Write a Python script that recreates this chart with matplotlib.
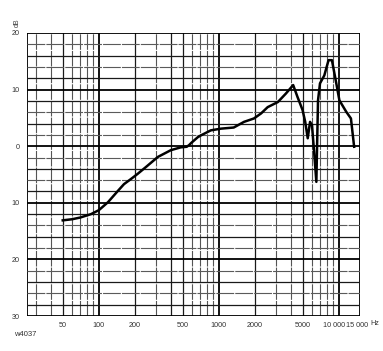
import numpy as np
import matplotlib.pyplot as plt
import matplotlib.transforms as mtransforms

# response curve
freq = [50, 60, 70, 86, 100, 119, 144, 162, 185, 210, 246, 310, 398, 482, 540,
        565, 590, 668, 707, 857, 1040, 1330, 1620, 1960, 2250, 2550, 3100, 3617,
        4160, 4520, 4980, 5240, 5500, 5750, 5970, 6200, 6490, 6700, 6960, 7560,
        8200, 8750, 9400, 10100, 11500, 12600, 13400]
level = [-13.1, -12.9, -12.6, -12.0, -11.3, -9.9, -7.9, -6.7, -5.8, -4.9, -3.7,
         -1.9, -0.7, -0.2, -0.1, 0.2, 0.6, 1.6, 1.9, 2.8, 3.1, 3.3, 4.3, 4.9, 5.8,
         6.9, 7.8, 9.3, 10.8, 8.7, 6.4, 4.3, 1.4, 4.3, 3.7, -0.7, -6.3, 8.1, 11.1,
         12.5, 15.2, 15.2, 11.7, 8.1, 6.1, 4.9, -0.1]

x_ticks = [50, 100, 200, 500, 1000, 2000, 5000, 10000, 15000]
x_labels = ['50', '100', '200', '500', '1000', '2000', '5000', '10 000', '15 000']
y_ticks = [20, 10, 0, -10, -20, -30]
y_labels = ['20', '10', '0', '10', '20', '30']

v_grid = [25, 30, 40, 50, 60, 70, 80, 90, 100, 200, 300, 400, 500, 600, 700, 800,
          900, 1000, 2000, 3000, 4000, 5000, 6000, 7000, 8000, 9000, 10000, 15000]
h_grid = list(range(-30, 21, 2))

plt.rcParams['font.family'] = ['Liberation Sans', 'DejaVu Sans']

fig = plt.figure(figsize=(3.83, 3.51), dpi=100)
ax = fig.add_axes([0.0695, 0.0997, 0.8705, 0.8063])
ax.set_xscale('log')
ax.set_xlim(25, 15000)
ax.set_ylim(-30, 20)

for v in v_grid:
    if v in (100, 1000, 10000, 25, 15000):
        ax.axvline(v, color='black', lw=1.3, zorder=1)
    elif v in (200, 400, 500, 2000, 5000, 50):
        ax.axvline(v, color='#1a1a1a', lw=0.9, zorder=1)
    else:
        ax.axvline(v, color='#555555', lw=0.8, ls=(0, (14, 1)), zorder=1)
for h in h_grid:
    if h % 10 == 0:
        ax.axhline(h, color='black', lw=1.3, zorder=1)
    elif h % 4 == 0:
        ax.axhline(h, color='#1a1a1a', lw=0.9, zorder=1)
    else:
        ax.axhline(h, color='#5a5a5a', lw=0.8, ls=(0, (16, 1)), zorder=1)

ax.plot(freq, level, color='black', lw=1.8, zorder=3)

for s in ax.spines.values():
    s.set_visible(False)
ax.minorticks_off()
ax.set_xticks(x_ticks, x_labels)
ax.set_yticks(y_ticks, y_labels)
ax.tick_params(length=0, labelsize=5.2, labelcolor='#333333')
ax.tick_params(axis='x', pad=4)
ax.tick_params(axis='y', pad=5)

# nudge the two crowded labels at the high end
xl = ax.get_xticklabels()
xl[-2].set_transform(xl[-2].get_transform() +
                     mtransforms.ScaledTranslation(-5 / 100, 0, fig.dpi_scale_trans))
xl[-1].set_transform(xl[-1].get_transform() +
                     mtransforms.ScaledTranslation(-3 / 100, 0, fig.dpi_scale_trans))

fig.text(370 / 383, 1 - 323.5 / 351, 'Hz', fontsize=5.2, color='#333333',
         ha='left', va='center')
fig.text(17 / 383, 1 - 23 / 351, 'dB', fontsize=5, color='#444444',
         ha='center', va='center', rotation=90)
fig.text(14 / 383, 1 - 335 / 351, 'w4037', fontsize=5.5, color='#333333',
         ha='left', va='center')

fig.savefig('out.png', dpi=100)
